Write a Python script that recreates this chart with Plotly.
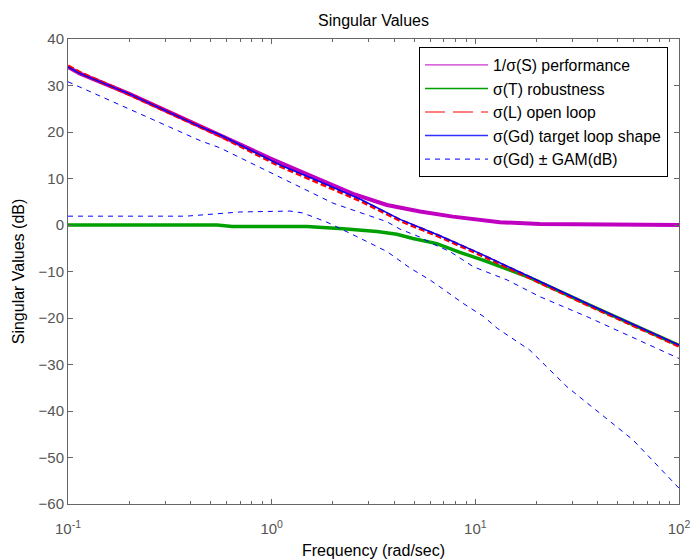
import plotly.graph_objects as go

# ---- data (frequency in rad/sec, values in dB) ----
freq_L = [0.1, 0.114, 0.2, 0.448, 0.557, 1.1, 1.73, 2.71, 4.27, 6.70, 10.5, 36.6, 100]
val_L_target = [34.0, 32.6, 28.2, 21.1, 19.4, 12.9, 9.3, 5.6, 1.2, -2.3, -6.1, -17.2, -25.8]
val_L_open = [34.2, 32.8, 28.1, 21.0, 19.2, 12.7, 9.0, 5.3, 1.0, -2.5, -6.3, -17.4, -26.0]

freq_S = [0.1, 0.114, 0.2, 0.448, 0.557, 1.0, 1.73, 2.51, 3.68, 5.35, 7.76, 10.5, 13.2, 20.7, 36.6, 100]
val_S = [34.0, 32.6, 28.2, 21.1, 19.4, 14.2, 9.7, 6.7, 4.3, 2.9, 1.8, 1.1, 0.6, 0.2, 0.1, 0.0]

freq_T = [0.1, 0.54, 0.64, 1.49, 2.24, 3.29, 4.12, 4.94, 6.47, 8.4, 11.0, 15.3, 18.5, 36.6, 100]
val_T = [0.0, 0.0, -0.3, -0.3, -0.8, -1.4, -2.0, -2.9, -4.0, -5.9, -7.6, -10.0, -11.3, -17.3, -25.9]

freq_D1 = [0.1, 0.448, 0.557, 1.49, 2.0, 2.51, 2.93, 3.68, 4.27, 5.35, 6.2, 7.5, 9.8, 14.3, 20.7, 35.3, 100]
val_D1 = [30.8, 18.1, 16.6, 7.5, 4.7, 3.2, 2.2, 0.7, -0.9, -2.6, -4.1, -5.7, -9.0, -11.8, -15.4, -19.7, -28.7]

freq_D2 = [0.1, 0.38, 0.70, 1.06, 1.23, 1.42, 1.87, 2.62, 3.68, 4.8, 5.98, 6.70, 8.67, 11.0, 12.8, 18.5, 28.2, 59.4, 100]
val_D2 = [1.9, 1.9, 2.8, 3.0, 3.0, 2.6, 0.6, -2.5, -5.7, -9.3, -11.8, -13.3, -16.8, -19.7, -22.2, -26.9, -34.8, -46.2, -56.6]

x_tickvals = [0.1, 1, 10, 100]
x_ticktext = ["10<sup>-1</sup>", "10<sup>0</sup>", "10<sup>1</sup>", "10<sup>2</sup>"]
x_minor_vals = [m * d for d in (0.1, 1, 10) for m in range(2, 10)]

names = ["1/\u03c3(S) performance", "\u03c3(T) robustness", "\u03c3(L) open loop",
         "\u03c3(Gd) target loop shape", "\u03c3(Gd) \u00b1 GAM(dB)"]

MAG = "#c000c0"
GRN = "#00a000"
RED = "#ff0000"
BLU = "#0000ff"
FONT = "Arial, Liberation Sans, sans-serif"

fig = go.Figure()
# plotted curves
fig.add_trace(go.Scatter(x=freq_S, y=val_S, mode="lines", line=dict(color=MAG, width=4), showlegend=False))
fig.add_trace(go.Scatter(x=freq_T, y=val_T, mode="lines", line=dict(color=GRN, width=3.5), showlegend=False))
fig.add_trace(go.Scatter(x=freq_L, y=val_L_open, mode="lines", line=dict(color=RED, width=3.5, dash="6px,3px"), showlegend=False))
fig.add_trace(go.Scatter(x=freq_L, y=val_L_target, mode="lines", line=dict(color=BLU, width=1.5), showlegend=False))
fig.add_trace(go.Scatter(x=freq_D1, y=val_D1, mode="lines", line=dict(color=BLU, width=1, dash="5px,5px"), showlegend=False))
fig.add_trace(go.Scatter(x=freq_D2, y=val_D2, mode="lines", line=dict(color=BLU, width=1, dash="5px,5px"), showlegend=False))

# legend entries (thin sample lines as in the reference)
leg_styles = [dict(color=MAG, width=1), dict(color=GRN, width=1.5), dict(color=RED, width=1.2, dash="20px,8px"),
              dict(color="#3030ff", width=1.5), dict(color="#3030ff", width=1.2, dash="5px,5px")]
for i, (nm, st) in enumerate(zip(names, leg_styles)):
    fig.add_trace(go.Scatter(x=[None], y=[None], mode="lines", line=st, name=nm, legendgroup=f"g{i}"))

axis_common = dict(
    showline=True, linecolor="#666666", linewidth=1, mirror="ticks",
    ticks="inside", ticklen=5, tickcolor="#666666", showgrid=False, zeroline=False,
    automargin=False,
    tickfont=dict(family=FONT, size=15, color="#555555"),
)

fig.update_layout(
    width=691, height=559,
    margin=dict(l=68, r=12, t=39, b=55),
    paper_bgcolor="white", plot_bgcolor="white",
    font=dict(family=FONT, size=15, color="black"),
    title=dict(text="Singular Values", x=(68 + 611 / 2) / 691, xanchor="center",
               y=1 - 20 / 559, yanchor="middle", font=dict(size=16, color="black")),
    xaxis=dict(type="log", range=[-1, 2], tickvals=x_tickvals, ticktext=x_ticktext,
               ticklabelstandoff=11,
               minor=dict(tickvals=x_minor_vals, ticks="inside", ticklen=3, tickcolor="#666666", showgrid=False),
               title=dict(text="Frequency (rad/sec)", standoff=9, font=dict(size=16, color="black")),
               **axis_common),
    yaxis=dict(range=[-60, 40], dtick=10, tick0=0,
               title=dict(text="Singular Values (dB)", standoff=9, font=dict(size=16, color="black")),
               **axis_common),
    legend=dict(x=(419 - 68) / 611, xanchor="left", y=0.9825, yanchor="top",
                bordercolor="black", borderwidth=1, bgcolor="white",
                font=dict(size=15.8, color="black"), traceorder="grouped", tracegroupgap=0,
                itemwidth=63),
)

fig.write_html("out.html", config={"displayModeBar": False},
               post_script="document.body.style.margin='0';document.body.style.overflow='hidden';")
